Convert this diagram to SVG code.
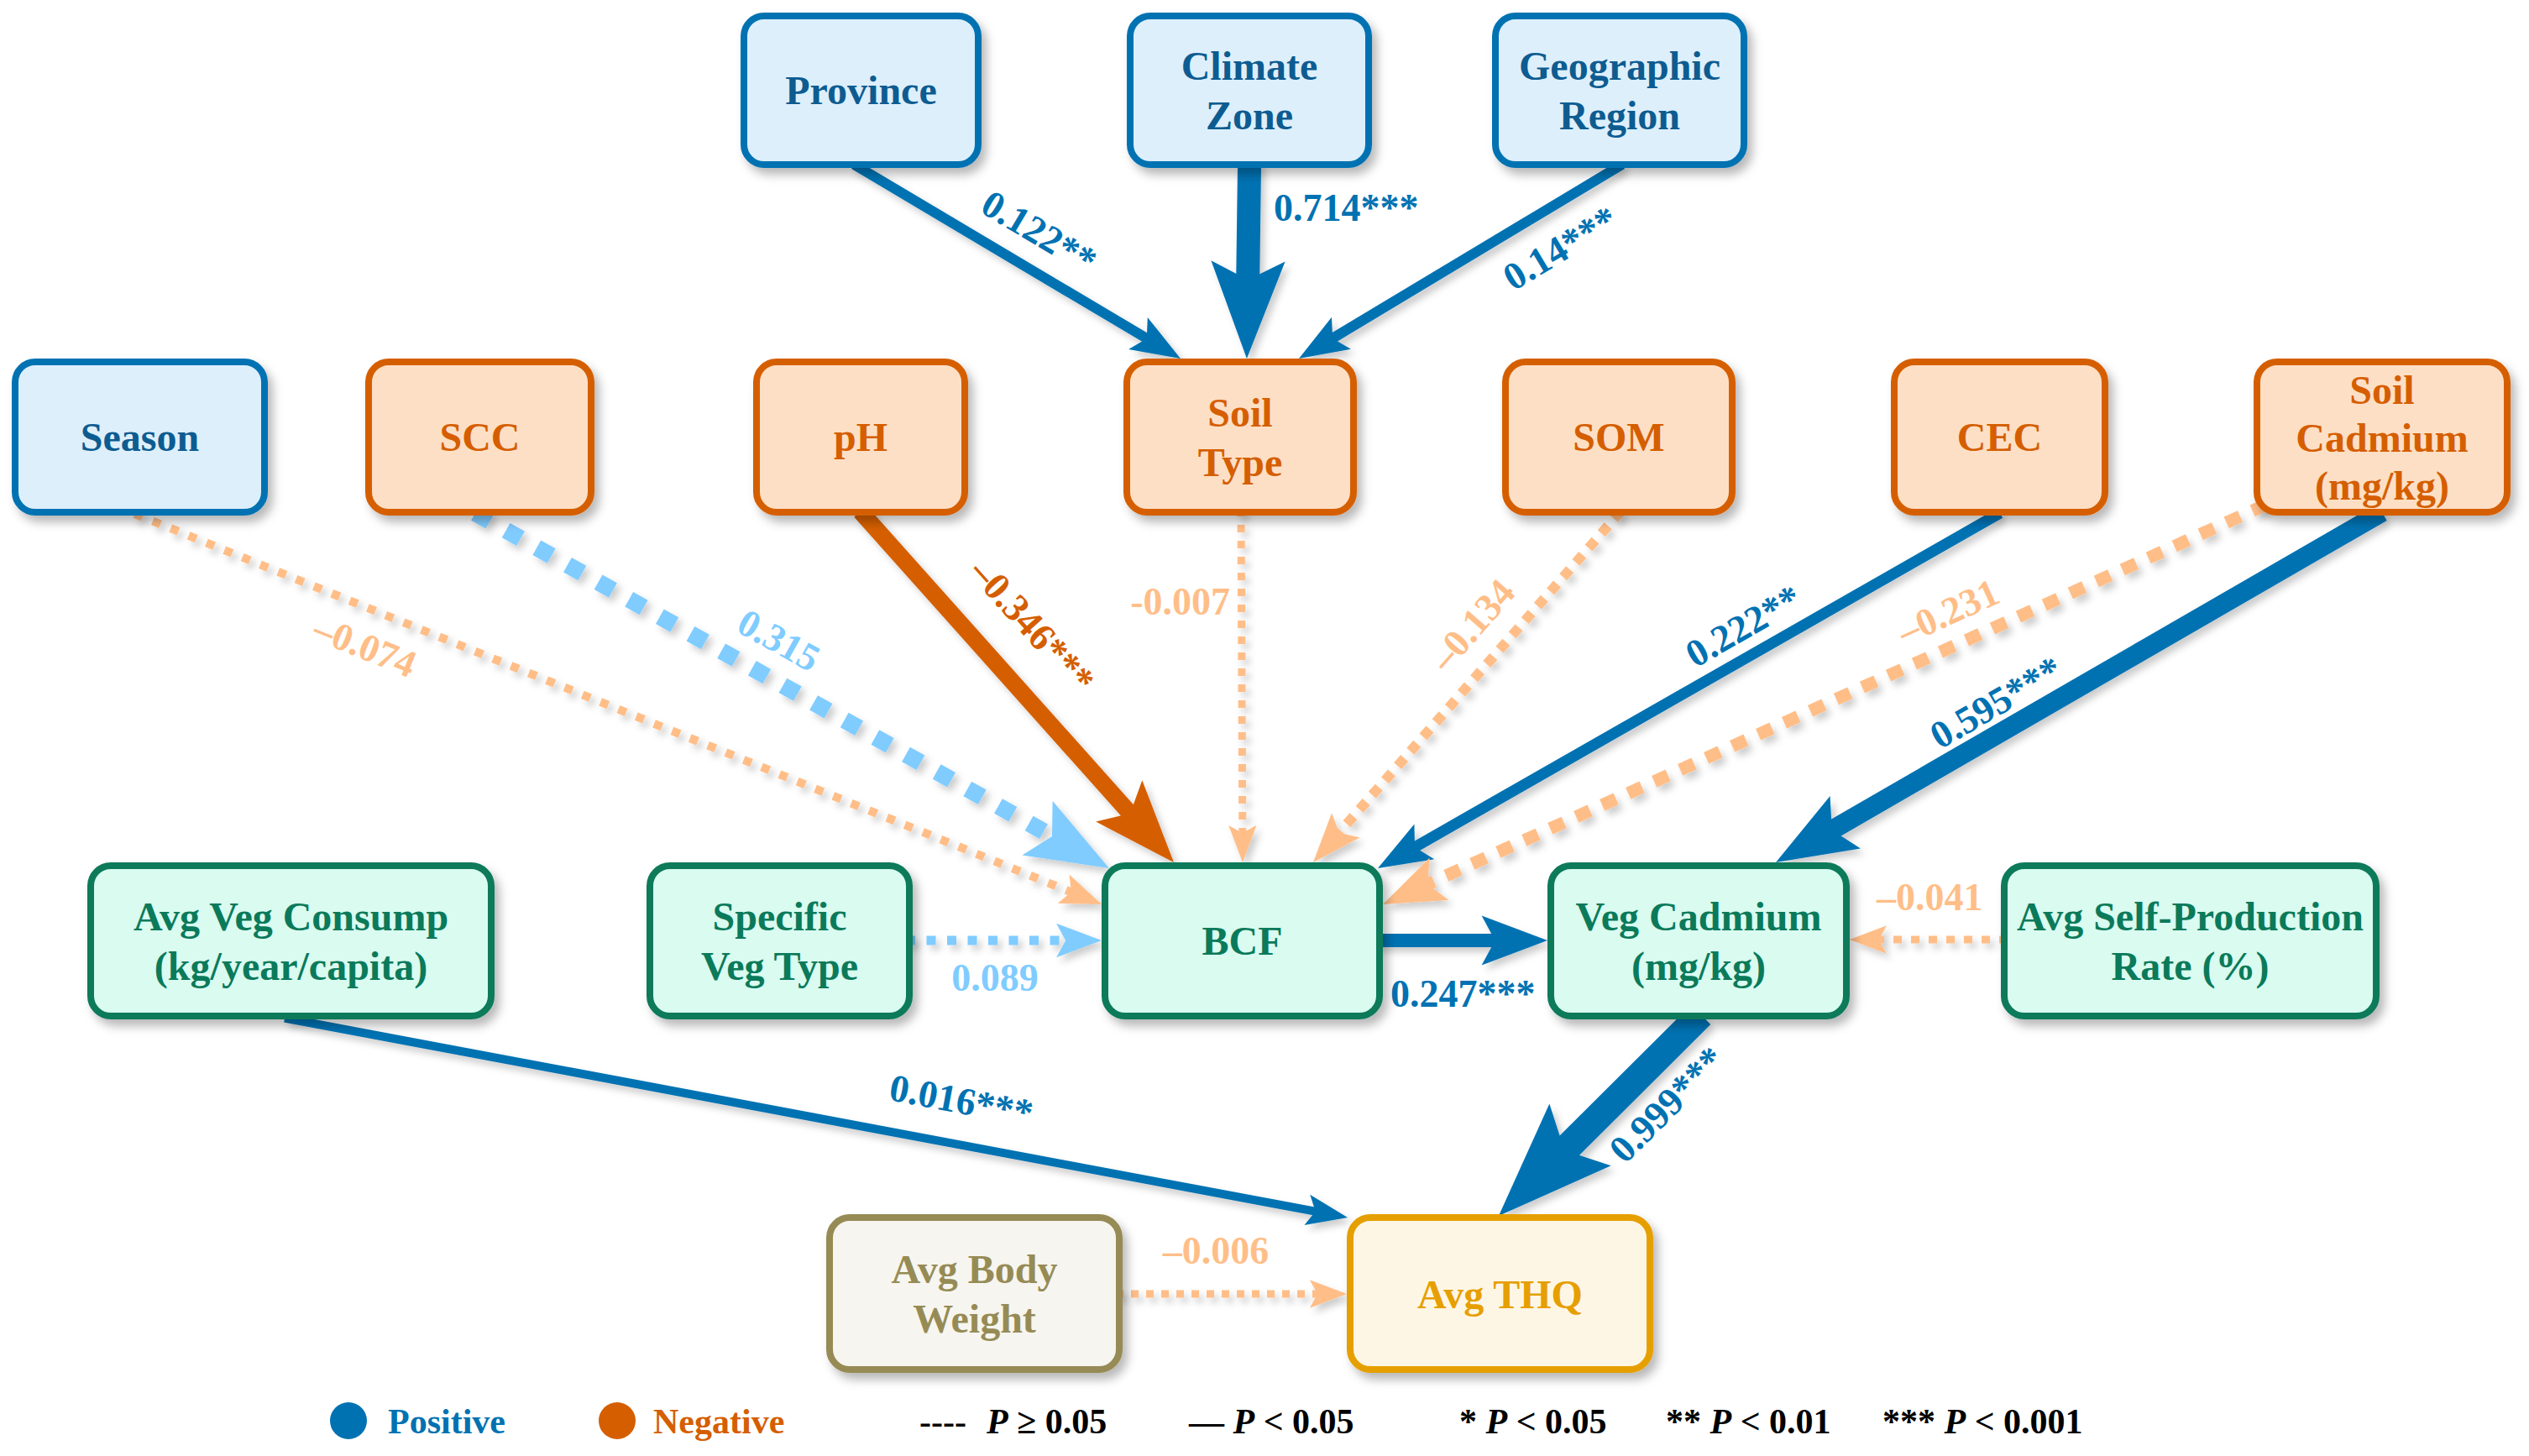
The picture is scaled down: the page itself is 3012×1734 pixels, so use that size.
<svg xmlns="http://www.w3.org/2000/svg" width="3012" height="1734" viewBox="0 0 3012 1734">
<style>
text{font-family:"Liberation Serif","Times New Roman",serif;font-weight:bold;}
.nt{font-size:48px;text-anchor:middle;}
.el{font-size:46px;}
.mid{text-anchor:middle;}
.end{text-anchor:end;}
.nb rect{fill:#DDEFFB;stroke:#0072B2;stroke-width:8;}
.nb text{fill:#0D5C91;}
.no rect{fill:#FDDFC5;stroke:#D55E00;stroke-width:8;}
.no text{fill:#D55E00;}
.ng rect{fill:#D9FBF0;stroke:#0A7A5A;stroke-width:8;}
.ng text{fill:#0A7A5A;}
.nw rect{fill:#F6F5EF;stroke:#968B55;stroke-width:8;}
.nw text{fill:#968B55;}
.ny rect{fill:#FEF6E4;stroke:#E69F00;stroke-width:8;}
.ny text{fill:#E69F00;}
.node rect{filter:url(#shadow);}
.e{fill:none;stroke-linecap:butt;}
.pb{stroke:#0072B2;}
.po{stroke:#D55E00;}
.plb{stroke:#80CCFF;}
.plo{stroke:#FFBE88;}
.tb{fill:#0072B2;}
.to{fill:#D55E00;}
.tlb{fill:#80CCFF;}
.tlo{fill:#FFBE88;}
.leg{font-size:42px;}
</style>
<defs>
<filter id="shadow" x="-20%" y="-20%" width="150%" height="150%">
<feDropShadow dx="6" dy="8" stdDeviation="6" flood-color="#000" flood-opacity="0.28"/>
</filter>
<filter id="eshadow" x="-10%" y="-10%" width="130%" height="130%">
<feDropShadow dx="5" dy="6" stdDeviation="4" flood-color="#000" flood-opacity="0.2"/>
</filter>
<marker id="aBn" viewBox="0 -2 5 4" markerUnits="strokeWidth" markerWidth="5" markerHeight="4" refX="1.5" refY="0" orient="auto" overflow="visible"><path d="M0,-1.85 L4.9,0 L0,1.85 L1,0 Z" fill="#0072B2"/></marker>
<marker id="aBt" viewBox="0 -2 5 4" markerUnits="strokeWidth" markerWidth="5" markerHeight="4" refX="1.3" refY="0" orient="auto" overflow="visible"><path d="M0,-1.575 L4.15,0 L0,1.575 L0.8,0 Z" fill="#0072B2"/></marker>
<marker id="aOn" viewBox="0 -2 5 4" markerUnits="strokeWidth" markerWidth="5" markerHeight="4" refX="1.5" refY="0" orient="auto" overflow="visible"><path d="M0,-1.85 L4.9,0 L0,1.85 L1,0 Z" fill="#D55E00"/></marker>
<marker id="aLBn" viewBox="0 -2 5 4" markerUnits="strokeWidth" markerWidth="5" markerHeight="4" refX="1.5" refY="0" orient="auto" overflow="visible"><path d="M0,-1.85 L4.9,0 L0,1.85 L1,0 Z" fill="#80CCFF"/></marker>
<marker id="aLOn" viewBox="0 -2 5 4" markerUnits="strokeWidth" markerWidth="5" markerHeight="4" refX="1.5" refY="0" orient="auto" overflow="visible"><path d="M0,-1.85 L4.9,0 L0,1.85 L1,0 Z" fill="#FFBE88"/></marker>
</defs>
<rect width="3012" height="1734" fill="#FFFFFF"/>

<g id="connectors" filter="url(#eshadow)">
<path id="e-province-soiltype" class="e pb" stroke-width="12" d="M1017.1,195.9 L1370.9,406.2" marker-end="url(#aBn)"/>
<path id="e-climate-soiltype" class="e pb" stroke-width="28" d="M1488.1,192 L1486,347.2" marker-end="url(#aBt)"/>
<path id="e-geo-soiltype" class="e pb" stroke-width="12" d="M1931.9,195.9 L1582,406" marker-end="url(#aBn)"/>
<path id="e-season-bcf" class="e plo" stroke-width="10" stroke-dasharray="10 13" d="M160.6,612 L1280.5,1064.3" marker-end="url(#aLOn)"/>
<path id="e-scc-bcf" class="e plb" stroke-width="20" stroke-dasharray="20 22" d="M566,611.1 L1261.7,1000.8" marker-end="url(#aLBn)"/>
<path id="e-ph-bcf" class="e po" stroke-width="20" d="M1024.7,609 L1352.7,976.3" marker-end="url(#aOn)"/>
<path id="e-soiltype-bcf" class="e plo" stroke-width="9" stroke-dasharray="9 10" d="M1478,606 L1479.9,996.4" marker-end="url(#aLOn)"/>
<path id="e-som-bcf" class="e plo" stroke-width="12" stroke-dasharray="12 11" d="M1930.3,609 L1590.9,996.3" marker-end="url(#aLOn)"/>
<path id="e-cec-bcf" class="e pb" stroke-width="13" d="M2381.9,611 L1679.4,1012.1" marker-end="url(#aBn)"/>
<path id="e-soilcd-bcf" class="e plo" stroke-width="15" stroke-dasharray="18 16" d="M2699,601 L1693.5,1056" marker-end="url(#aLOn)"/>
<path id="e-soilcd-vegcd" class="e pb" stroke-width="23" d="M2836.9,610 L2171.8,994.2" marker-end="url(#aBt)"/>
<path id="e-specveg-bcf" class="e plb" stroke-width="11" stroke-dasharray="11 13.5" d="M1079,1120 L1274.6,1120" marker-end="url(#aLBn)"/>
<path id="e-bcf-vegcd" class="e pb" stroke-width="16" d="M1639,1120 L1788.6,1120" marker-end="url(#aBn)"/>
<path id="e-selfprod-vegcd" class="e plo" stroke-width="9" stroke-dasharray="10 11" d="M2391,1119 L2233.4,1119" marker-end="url(#aLOn)"/>
<path id="e-vegcons-thq" class="e pb" stroke-width="10" d="M339.1,1212.5 L1571.6,1443.7" marker-end="url(#aBn)"/>
<path id="e-vegcd-thq" class="e pb" stroke-width="33" d="M2025.7,1208.4 L1851.6,1381.7" marker-end="url(#aBt)"/>
<path id="e-bodyweight-thq" class="e plo" stroke-width="9" stroke-dasharray="9 9" d="M1329,1541 L1573.4,1541" marker-end="url(#aLOn)"/>
</g>

<g id="edge-labels">
<text class="el tb mid" transform="translate(1238 276) rotate(30.7)" y="16">0.122**</text>
<text class="el tb" x="1517" y="263">0.714***</text>
<text class="el tb mid" transform="translate(1858 295) rotate(-31)" y="16">0.14***</text>
<text class="el tlo mid" transform="translate(435 769) rotate(22)" y="16">–0.074</text>
<text class="el tlb mid" transform="translate(928 762) rotate(29.3)" y="16">0.315</text>
<text class="el to mid" transform="translate(1230 745) rotate(48.2)" y="16">–0.346***</text>
<text class="el tlo end" x="1465" y="732">-0.007</text>
<text class="el tlo mid" transform="translate(1753 744) rotate(-48.8)" y="16">–0.134</text>
<text class="el tb mid" transform="translate(2076 745) rotate(-29.7)" y="16">0.222**</text>
<text class="el tlo mid" transform="translate(2320 728) rotate(-24.3)" y="16">–0.231</text>
<text class="el tb mid" transform="translate(2377 836) rotate(-30)" y="16">0.595***</text>
<text class="el tlb mid" x="1185" y="1180">0.089</text>
<text class="el tb" x="1656" y="1199">0.247***</text>
<text class="el tlo" x="2235" y="1084">–0.041</text>
<text class="el tb mid" transform="translate(1145 1310) rotate(10.6)" y="16">0.016***</text>
<text class="el tb mid" transform="translate(1985 1315) rotate(-45)" y="16">0.999***</text>
<text class="el tlo mid" x="1448" y="1505">–0.006</text>
</g>

<g id="node-province" class="node nb"><rect x="886" y="19" width="279" height="177" rx="24"/><text class="nt" x="1025.5" y="124">Province</text></g>
<g id="node-climate" class="node nb"><rect x="1346" y="19" width="284" height="177" rx="24"/><text class="nt" x="1488" y="95">Climate</text><text class="nt" x="1488" y="154">Zone</text></g>
<g id="node-geographic" class="node nb"><rect x="1781" y="19" width="296" height="177" rx="24"/><text class="nt" x="1929" y="95">Geographic</text><text class="nt" x="1929" y="154">Region</text></g>

<g id="node-season" class="node nb"><rect x="18" y="431" width="297" height="179" rx="24"/><text class="nt" x="166.5" y="537">Season</text></g>
<g id="node-scc" class="node no"><rect x="439" y="431" width="265" height="179" rx="24"/><text class="nt" x="571.5" y="537">SCC</text></g>
<g id="node-ph" class="node no"><rect x="901" y="431" width="248" height="179" rx="24"/><text class="nt" x="1025" y="537">pH</text></g>
<g id="node-soiltype" class="node no"><rect x="1342" y="431" width="270" height="179" rx="24"/><text class="nt" x="1477" y="508">Soil</text><text class="nt" x="1477" y="567">Type</text></g>
<g id="node-som" class="node no"><rect x="1793" y="431" width="270" height="179" rx="24"/><text class="nt" x="1928" y="537">SOM</text></g>
<g id="node-cec" class="node no"><rect x="2256" y="431" width="251" height="179" rx="24"/><text class="nt" x="2381.5" y="537">CEC</text></g>
<g id="node-soilcd" class="node no"><rect x="2688" y="431" width="298" height="179" rx="24"/><text class="nt" x="2837" y="481">Soil</text><text class="nt" x="2837" y="538">Cadmium</text><text class="nt" x="2837" y="595">(mg/kg)</text></g>

<g id="node-vegcons" class="node ng"><rect x="108" y="1031" width="477" height="179" rx="24"/><text class="nt" x="346.5" y="1108">Avg Veg Consump</text><text class="nt" x="346.5" y="1167">(kg/year/capita)</text></g>
<g id="node-specveg" class="node ng"><rect x="774" y="1031" width="309" height="179" rx="24"/><text class="nt" x="928.5" y="1108">Specific</text><text class="nt" x="928.5" y="1167">Veg Type</text></g>
<g id="node-bcf" class="node ng"><rect x="1316" y="1031" width="327" height="179" rx="24"/><text class="nt" x="1479.5" y="1137">BCF</text></g>
<g id="node-vegcd" class="node ng"><rect x="1847" y="1031" width="352" height="179" rx="24"/><text class="nt" x="2023" y="1108">Veg Cadmium</text><text class="nt" x="2023" y="1167">(mg/kg)</text></g>
<g id="node-selfprod" class="node ng"><rect x="2387" y="1031" width="443" height="179" rx="24"/><text class="nt" x="2608.5" y="1108">Avg Self-Production</text><text class="nt" x="2608.5" y="1167">Rate (%)</text></g>

<g id="node-bodyweight" class="node nw"><rect x="988" y="1450" width="345" height="181" rx="24"/><text class="nt" x="1160.5" y="1528">Avg Body</text><text class="nt" x="1160.5" y="1587">Weight</text></g>
<g id="node-thq" class="node ny"><rect x="1608" y="1450" width="357" height="181" rx="24"/><text class="nt" x="1786.5" y="1558">Avg THQ</text></g>

<g id="legend">
<circle cx="415" cy="1692" r="22" fill="#0072B2"/>
<text class="leg" x="462" y="1707" fill="#0072B2">Positive</text>
<circle cx="735" cy="1692" r="22" fill="#D55E00"/>
<text class="leg" x="778" y="1707" fill="#D55E00">Negative</text>
<text class="leg" x="1095" y="1707" fill="#000">----<tspan dx="24" font-style="italic">P</tspan> ≥ 0.05</text>
<text class="leg" x="1416" y="1707" fill="#000">— <tspan font-style="italic">P</tspan> &lt; 0.05</text>
<text class="leg" x="1738" y="1707" fill="#000">* <tspan font-style="italic">P</tspan> &lt; 0.05</text>
<text class="leg" x="1984" y="1707" fill="#000">** <tspan font-style="italic">P</tspan> &lt; 0.01</text>
<text class="leg" x="2242" y="1707" fill="#000">*** <tspan font-style="italic">P</tspan> &lt; 0.001</text>
</g>
</svg>
